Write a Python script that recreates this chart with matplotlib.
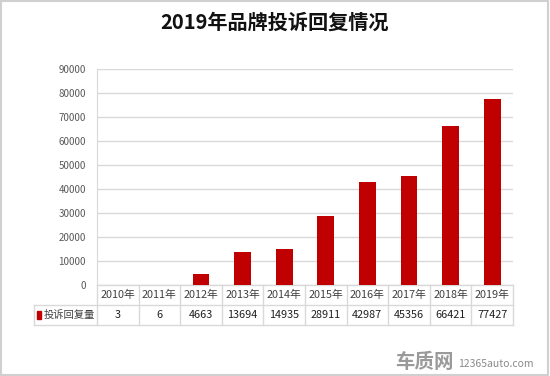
import matplotlib
matplotlib.use("Agg")
import matplotlib.pyplot as plt
import matplotlib.transforms as mtransforms
from matplotlib.patches import Rectangle

plt.rcParams['font.family'] = ['Noto Sans CJK SC', 'DejaVu Sans']

title = "2019年品牌投诉回复情况"
years = ["2010年", "2011年", "2012年", "2013年", "2014年",
         "2015年", "2016年", "2017年", "2018年", "2019年"]
values = [3, 6, 4663, 13694, 14935, 28911, 42987, 45356, 66421, 77427]
series_name = "投诉回复量"
yticks = [0, 10000, 20000, 30000, 40000, 50000, 60000, 70000, 80000, 90000]

bar_color = "#c00000"
grid_color = "#d9d9d9"
text_color = "#404040"

fig = plt.figure(figsize=(5.5, 3.76), dpi=100)
ax = fig.add_axes([97 / 550, 1 - 285 / 376, 416 / 550, 216 / 376])

x = list(range(len(years)))
ax.bar(x, values, width=0.4, color=bar_color, zorder=3)
ax.set_xlim(-0.5, len(years) - 0.5)
ax.set_ylim(0, 90000)
ax.set_yticks(yticks)
ax.set_yticklabels([str(t) for t in yticks], fontsize=7, color="#595959")
ax.set_xticks([])
ax.tick_params(axis='y', length=0, pad=8)
ax.yaxis.grid(True, color=grid_color, linewidth=1)
ax.set_axisbelow(True)
for s in ["top", "right", "bottom"]:
    ax.spines[s].set_visible(False)
ax.spines["left"].set_color(grid_color)

# data table under the axis
trans = mtransforms.blended_transform_factory(ax.transData, ax.transAxes)
rh = 20 / 216
label_left = -0.5 - 63 / 41.6
line_kw = dict(color=grid_color, linewidth=1, transform=trans, clip_on=False)
ax.plot([-0.5, len(years) - 0.5], [0, 0], **line_kw)
ax.plot([label_left, len(years) - 0.5], [-rh, -rh], **line_kw)
ax.plot([label_left, len(years) - 0.5], [-2 * rh, -2 * rh], **line_kw)
ax.plot([label_left, label_left], [-rh, -2 * rh], **line_kw)
ax.plot([-0.5, -0.5], [0, -2 * rh], **line_kw)
for i in range(len(years)):
    ax.plot([i + 0.5, i + 0.5], [0, -2 * rh], **line_kw)
    ax.text(i, -rh / 2, years[i], transform=trans, ha="center", va="center",
            fontsize=7.8, color=text_color)
    ax.text(i, -1.5 * rh, str(values[i]), transform=trans, ha="center",
            va="center", fontsize=7.8, color="#202020")
ax.add_patch(Rectangle((label_left + 0.07, -1.5 * rh - 0.02), 0.11, 0.04,
                       color=bar_color, transform=trans, clip_on=False))
ax.text(label_left + 0.22, -1.5 * rh, series_name, transform=trans,
        ha="left", va="center", fontsize=7.4, color=text_color)

fig.text(0.5, 1 - 22 / 376, title, ha="center", va="center",
         fontsize=14.5, fontweight="bold", color="#111111")

# watermark
fig.text(424 / 550, 1 - 362 / 376, "车质网", ha="center", va="center",
         fontsize=14, fontweight="bold", color="#9a9a9a")
fig.text(458 / 550, 1 - 364 / 376, "12365auto.com", ha="left", va="center",
         fontsize=7.5, color="#8a8a8a")

fig.patches.append(Rectangle((0.002, 0.003), 0.995, 0.994, fill=False,
                             edgecolor="#d0d0d0", linewidth=1.5,
                             transform=fig.transFigure))

fig.savefig("out.png", dpi=100)
